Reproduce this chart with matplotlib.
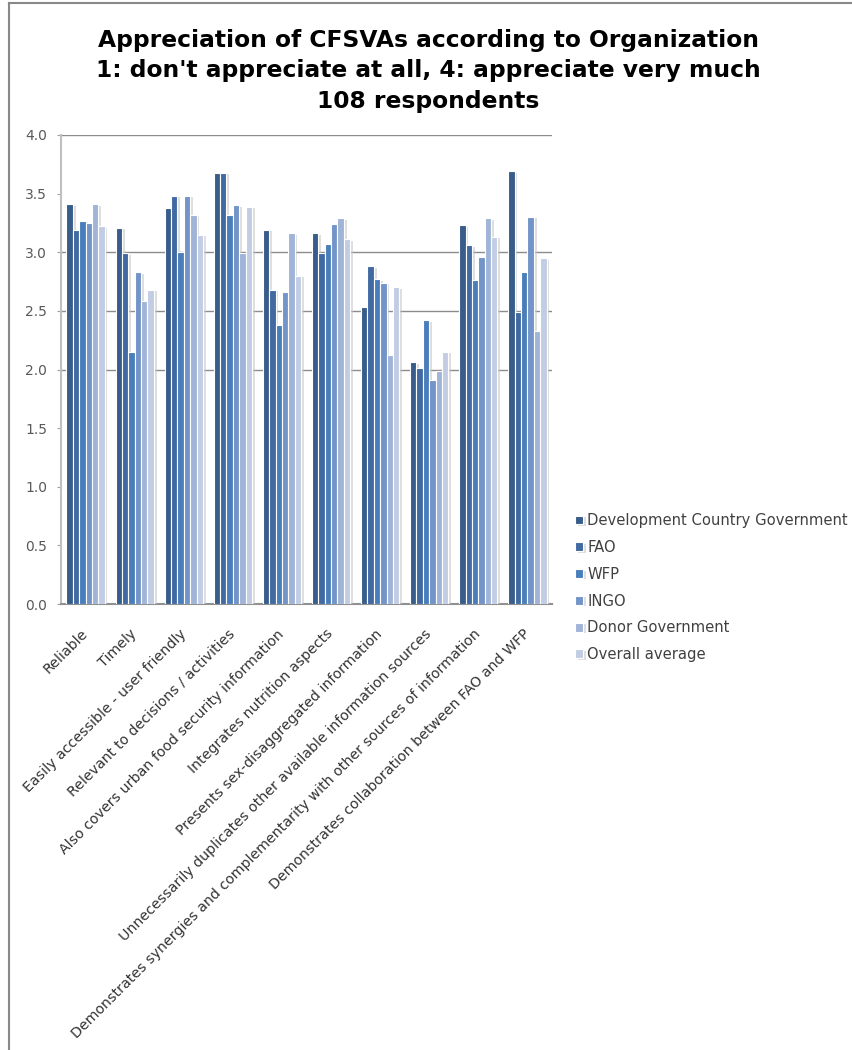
import numpy as np
import matplotlib
matplotlib.use("Agg")
import matplotlib.pyplot as plt
import matplotlib.patheffects as pe
from matplotlib.lines import Line2D

# criteria (x categories)
criteria = [
    "Reliable",
    "Timely",
    "Easily accessible - user friendly",
    "Relevant to decisions / activities",
    "Also covers urban food security information",
    "Integrates nutrition aspects",
    "Presents sex-disaggregated information",
    "Unnecessarily duplicates other available information sources",
    "Demonstrates synergies and complementarity with other sources of information",
    "Demonstrates collaboration between FAO and WFP",
]

organizations = ["Development Country Government", "FAO", "WFP", "INGO",
                 "Donor Government", "Overall average"]

dev_gov = [3.41, 3.21, 3.38, 3.68, 3.19, 3.16, 2.53, 2.06, 3.23, 3.69]
fao = [3.19, 2.99, 3.48, 3.68, 2.68, 2.99, 2.88, 2.01, 3.06, 2.49]
wfp = [3.27, 2.15, 3.00, 3.32, 2.38, 3.07, 2.77, 2.42, 2.76, 2.83]
ingo = [3.25, 2.83, 3.48, 3.40, 2.66, 3.24, 2.74, 1.91, 2.96, 3.30]
donor_gov = [3.41, 2.58, 3.32, 2.99, 3.16, 3.29, 2.12, 1.99, 3.29, 2.33]
overall = [3.22, 2.68, 3.15, 3.39, 2.80, 3.11, 2.70, 2.15, 3.13, 2.95]

colors = ["#385D8A", "#4169A2", "#4A7EBB", "#7394C8", "#A0B4D8", "#C2CDE4"]

series = [dev_gov, fao, wfp, ingo, donor_gov, overall]

fig = plt.figure(figsize=(8.52, 10.5), dpi=100)
ax = fig.add_axes([61 / 852, 1 - 604 / 1050, 491 / 852, 469 / 1050])

x = np.arange(len(criteria))
w = 0.13
shadow = [pe.SimplePatchShadow(offset=(2, -1), shadow_rgbFace="#c8c8c8", alpha=0.6), pe.Normal()]
handles = []
for j, vals in enumerate(series):
    bars = ax.bar(x + (j - 2.5) * w, vals, width=w, color=colors[j],
                  edgecolor="white", linewidth=0.8, zorder=3)
    for b in bars:
        b.set_path_effects(shadow)
    handles.append(bars)

ax.set_xlim(-0.5, len(criteria) - 0.5)
ax.set_ylim(0, 4.0)
ax.set_yticks(np.arange(0, 4.01, 0.5))
ax.set_yticklabels([f"{v:.1f}" for v in np.arange(0, 4.01, 0.5)], color="#595959", fontsize=10)
for g in [2.0, 2.5, 3.0, 4.0]:
    ax.axhline(g, color="#8c8c8c", linewidth=1.0, zorder=1)

ax.set_xticks(x)
ax.set_xticklabels(criteria, rotation=45, ha="right", va="center", rotation_mode="anchor",
                   fontsize=10.2, color="#333333")
ax.tick_params(axis="x", length=0, pad=20)
ax.tick_params(axis="y", length=3, color="#a0a0a0", pad=7)

for s in ["top", "right"]:
    ax.spines[s].set_visible(False)
ax.spines["left"].set_color("#c0c0c0")
ax.spines["left"].set_linewidth(1.5)
ax.spines["bottom"].set_color("#909090")
ax.spines["bottom"].set_linewidth(1.5)

fig.legend(handles, organizations, loc="upper left", bbox_to_anchor=(562 / 852, 1 - 500 / 1050),
           frameon=False, fontsize=10.6, handlelength=0.55, handleheight=0.55,
           handletextpad=0.25, labelspacing=0.80, labelcolor="#404040")

fig.text(428 / 852, 1 - 71 / 1050,
         "Appreciation of CFSVAs according to Organization\n"
         "1: don't appreciate at all, 4: appreciate very much\n"
         "108 respondents",
         ha="center", va="center", fontsize=16.8, fontweight="bold", linespacing=1.42)

# outer chart frame
fig.add_artist(Line2D([9 / 852, 9 / 852], [0, 1 - 3 / 1050], transform=fig.transFigure,
                      color="#888888", linewidth=1.5))
fig.add_artist(Line2D([9 / 852, 1], [1 - 3 / 1050, 1 - 3 / 1050], transform=fig.transFigure,
                      color="#888888", linewidth=1.5))

fig.savefig("out.png", dpi=100)
